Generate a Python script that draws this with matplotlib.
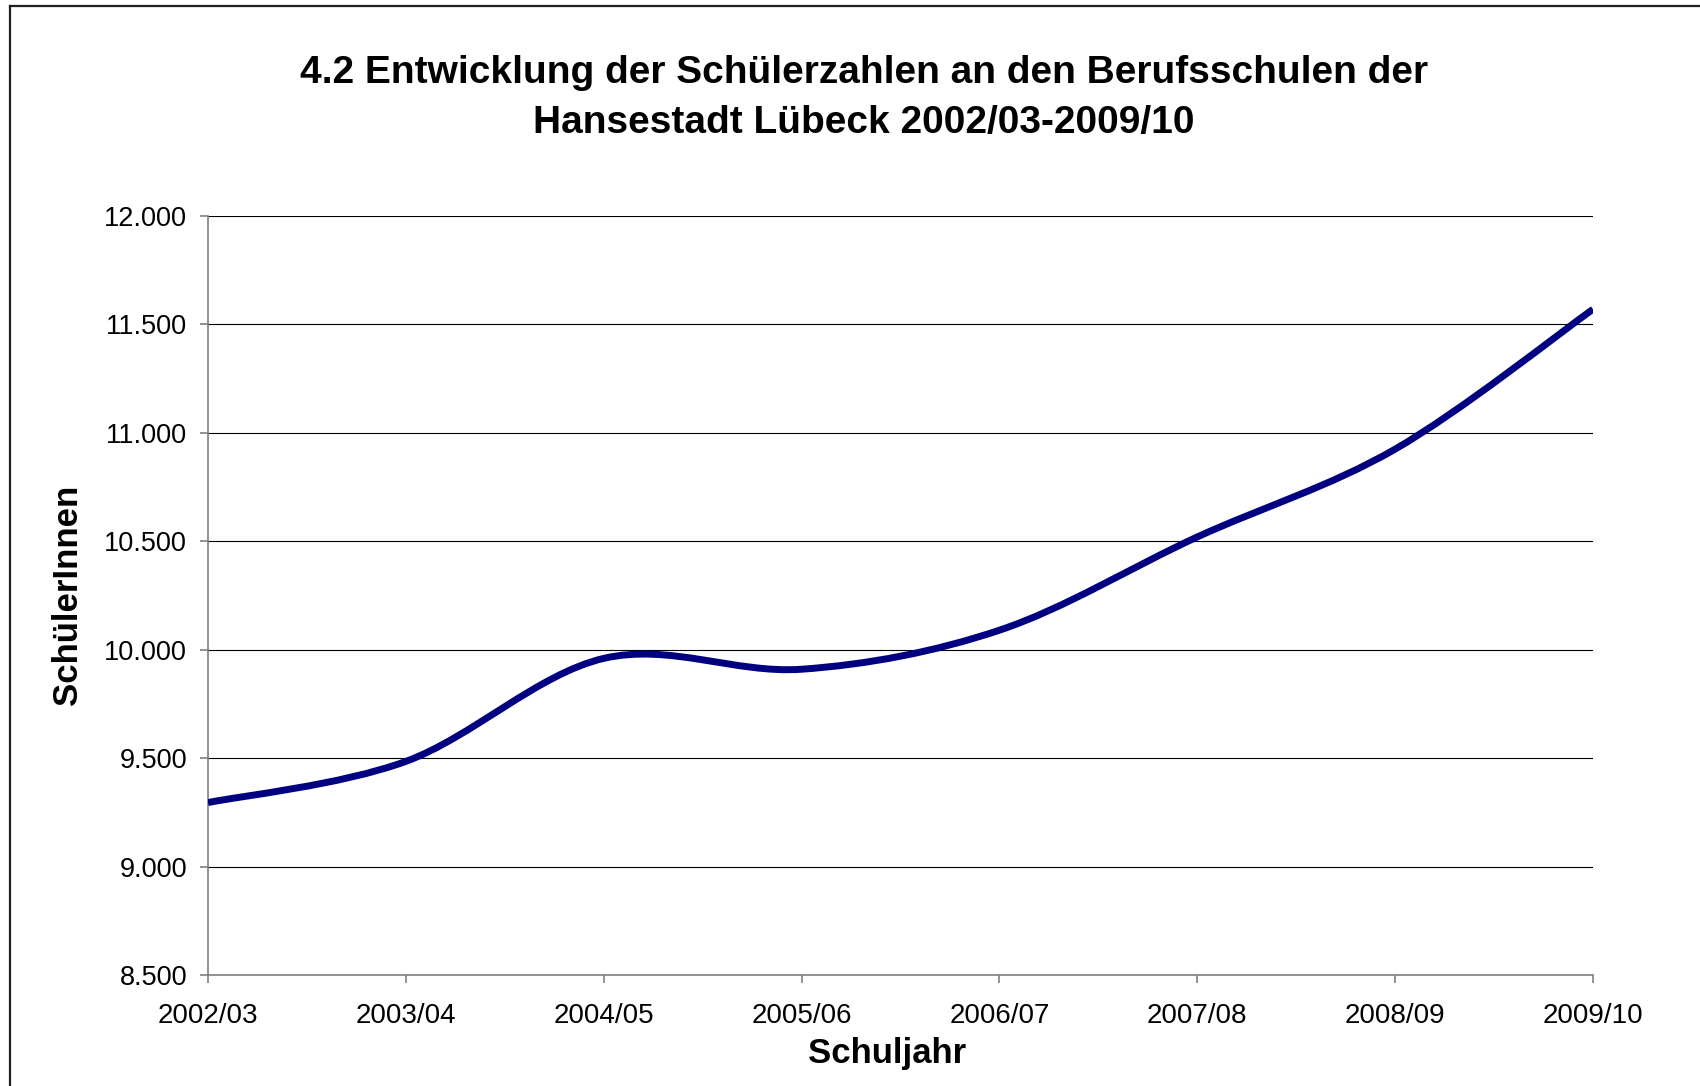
import matplotlib
matplotlib.use("Agg")
import matplotlib.pyplot as plt
from matplotlib.path import Path
from matplotlib.patches import PathPatch
from matplotlib.lines import Line2D
from matplotlib.ticker import FuncFormatter

# data
schuljahre = ["2002/03", "2003/04", "2004/05", "2005/06",
              "2006/07", "2007/08", "2008/09", "2009/10"]
schueler = [9295, 9485, 9960, 9910, 10090, 10520, 10925, 11570]
y_ticks = [8500, 9000, 9500, 10000, 10500, 11000, 11500, 12000]

title = "4.2 Entwicklung der Schülerzahlen an den Berufsschulen der\nHansestadt Lübeck 2002/03-2009/10"

plt.rcParams['font.family'] = ['Liberation Sans', 'DejaVu Sans']

W, H = 1700, 1086
fig = plt.figure(figsize=(W / 100, H / 100), dpi=100)
ax = fig.add_axes([208 / W, 1 - 975 / H, (1593 - 208) / W, (975 - 216) / H])


def smooth_path(xs, ys):
    # excel-like smoothed line: bezier segments through the data points
    n = len(xs)
    pts = list(zip(xs, ys))
    verts = [pts[0]]
    codes = [Path.MOVETO]
    for i in range(n - 1):
        p0 = pts[max(i - 1, 0)]
        p1 = pts[i]
        p2 = pts[i + 1]
        p3 = pts[min(i + 2, n - 1)]
        c1 = (p1[0] + (p2[0] - p0[0]) / 6, p1[1] + (p2[1] - p0[1]) / 6)
        c2 = (p2[0] - (p3[0] - p1[0]) / 6, p2[1] - (p3[1] - p1[1]) / 6)
        verts += [c1, c2, p2]
        codes += [Path.CURVE4] * 3
    return Path(verts, codes)


xs = list(range(len(schuljahre)))
patch = PathPatch(smooth_path(xs, schueler), fill=False, edgecolor='#000080',
                  lw=5, capstyle='butt', joinstyle='round', zorder=3)
ax.add_patch(patch)

ax.set_xlim(0, len(schuljahre) - 1)
ax.set_ylim(8500, 12000)
ax.set_xticks(xs)
ax.set_xticklabels(schuljahre)
ax.set_yticks(y_ticks)
ax.yaxis.set_major_formatter(FuncFormatter(lambda v, p: f"{v:,.0f}".replace(',', '.')))

ax.grid(axis='y', color='#000000', lw=0.8)
ax.set_axisbelow(True)
for s in ['top', 'right']:
    ax.spines[s].set_visible(False)
for s in ['left', 'bottom']:
    ax.spines[s].set_color('#808080')
    ax.spines[s].set_linewidth(1.2)
ax.tick_params(axis='x', length=6, width=1.2, color='#808080', labelsize=20, pad=14)
ax.tick_params(axis='y', length=6, width=1.2, color='#808080', labelsize=19.5, pad=9)

fig.text(864 / W, 1 - 98 / H, title, ha='center', va='center',
         fontsize=28, fontweight='bold', linespacing=1.48)
fig.text(887 / W, 1 - 1054 / H, "Schuljahr", ha='center', va='center',
         fontsize=25, fontweight='bold')
fig.text(68 / W, 1 - 595 / H, "SchülerInnen", ha='center', va='center',
         rotation=90, fontsize=25, fontweight='bold')

# chart area frame (runs off the right and bottom edges)
fig.add_artist(Line2D([10 / W, 10 / W], [1 - 6 / H, 0], transform=fig.transFigure,
                      color='#222222', lw=1.6))
fig.add_artist(Line2D([10 / W, 1], [1 - 6 / H, 1 - 6 / H], transform=fig.transFigure,
                      color='#222222', lw=1.6))

fig.savefig("out.png", dpi=100, facecolor='white')
